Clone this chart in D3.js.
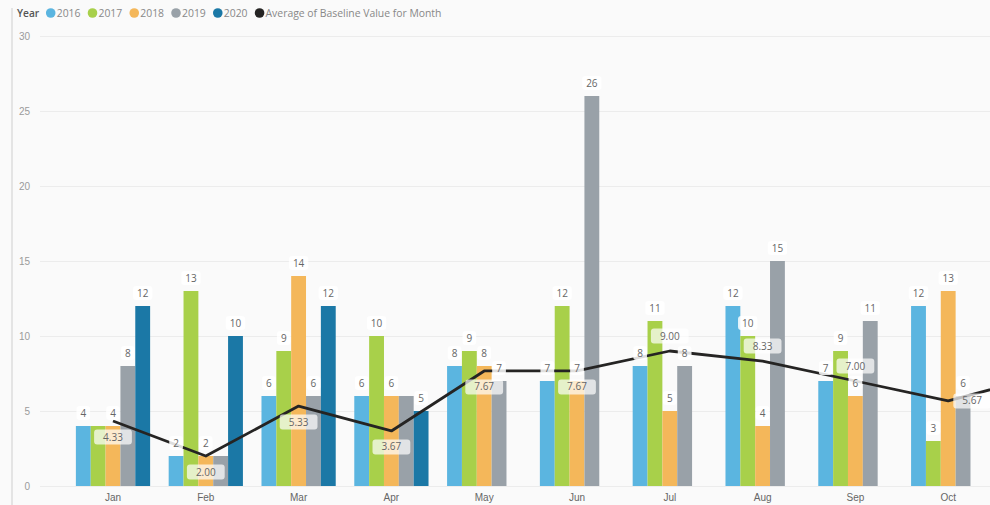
<!DOCTYPE html>
<html><head><meta charset="utf-8">
<script src="https://cdn.jsdelivr.net/npm/d3@7"></script>
<style>
html,body{margin:0;padding:0;background:#fafafa;}
svg{display:block;font-family:"Open Sans","Noto Sans",sans-serif;}
</style></head>
<body><svg id="c" width="990" height="505"></svg>
<script>
const months = ["Jan","Feb","Mar","Apr","May","Jun","Jul","Aug","Sep","Oct","Nov"];
const visibleMonths = ["Jan","Feb","Mar","Apr","May","Jun","Jul","Aug","Sep","Oct"];
const years = ["2016","2017","2018","2019","2020"];
const v2016 = [4, 2, 6, 6, 8, 7, 8, 12, 7, 12];
const v2017 = [4, 13, 9, 10, 9, 12, 11, 10, 9, 3];
const v2018 = [4, 2, 14, 6, 8, 7, 5, 4, 6, 13];
const v2019 = [8, 2, 6, 6, 7, 26, 8, 15, 11, 6];
const v2020 = [12, 10, 12, 5, null, null, null, null, null, null];
const avgBaseline = [4.33, 2.00, 5.33, 3.67, 7.67, 7.67, 9.00, 8.33, 7.00, 5.67, 7.33];
const yTicks = [0, 5, 10, 15, 20, 25, 30];
const avgLabelSide = ["below","below","below","below","below","below","above","above","above","right","none"];
const legendTitle = "Year";
const avgName = "Average of Baseline Value for Month";

const colors = {"2016":"#5BB5E0","2017":"#A8D04A","2018":"#F4B75A","2019":"#99A1A8","2020":"#1B78A6"};
const lineColor = "#252423";
const series = {"2016":v2016,"2017":v2017,"2018":v2018,"2019":v2019,"2020":v2020};

const svg = d3.select("#c");
const W = 990, H = 505;

const x = d3.scaleBand().domain(months).range([66.6, 66.6 + 11*92.8]).paddingInner(0.2).paddingOuter(0.1);
const xs = d3.scaleBand().domain(years).range([0, x.bandwidth()]);
const y = d3.scaleLinear().domain([0, 30]).range([486, 36]);

// left frame line
svg.append("line").attr("x1",12).attr("x2",12).attr("y1",8).attr("y2",H).attr("stroke","#dcdcdc").attr("stroke-width",1.5);

// gridlines
const yAxis = d3.axisLeft(y).tickValues(yTicks).tickSize(-(W-40)).tickPadding(10);
const gy = svg.append("g").attr("transform","translate(40,0)").call(yAxis);
gy.select(".domain").remove();
gy.selectAll(".tick line").attr("stroke","#ececec").attr("stroke-width",1);
gy.selectAll(".tick text").attr("fill","#9a9a9a").attr("font-size",10);

// x axis
const xAxis = d3.axisBottom(x).tickValues(visibleMonths).tickSize(0).tickPadding(8);
const gx = svg.append("g").attr("transform","translate(0,486)").call(xAxis);
gx.select(".domain").remove();
gx.selectAll(".tick text").attr("fill","#666").attr("font-size",10);

// bars
const barData = [];
months.forEach((m,i)=>{
  years.forEach(yr=>{
    const v = series[yr][i];
    if(v!=null && v!==undefined) barData.push({m, yr, v});
  });
});
svg.append("g").selectAll("rect").data(barData).join("rect")
  .attr("x", d=>x(d.m)+xs(d.yr))
  .attr("width", xs.bandwidth())
  .attr("y", d=>y(d.v))
  .attr("height", d=>y(0)-y(d.v))
  .attr("fill", d=>colors[d.yr]);

// line
const lineData = months.map((m,i)=>({m, v:avgBaseline[i], side:avgLabelSide[i]}));
const line = d3.line().x(d=>x(d.m)+x.bandwidth()/2).y(d=>y(d.v));
svg.append("path").datum(lineData).attr("d", line).attr("fill","none")
  .attr("stroke", lineColor).attr("stroke-width",2.8).attr("stroke-linejoin","round");

// bar labels with collision hiding
const lblG = svg.append("g");
const shown = [];
barData.forEach(d=>{
  const cx = x(d.m)+xs(d.yr)+xs.bandwidth()/2;
  const cy = y(d.v) - 13;
  const g = lblG.append("g");
  const t = g.append("text").attr("x",cx).attr("y",cy).attr("dy","0.35em")
    .attr("text-anchor","middle").attr("font-size",10).attr("fill","#666").text(d.v);
  const w = t.node().getComputedTextLength();
  const box = {x0:cx-w/2-5, x1:cx+w/2+5, y0:cy-7, y1:cy+7};
  const hit = shown.some(b=>!(box.x1<=b.x0||box.x0>=b.x1||box.y1<=b.y0||box.y0>=b.y1));
  if(hit){ g.remove(); return; }
  shown.push(box);
  g.insert("rect","text").attr("x",box.x0+1).attr("y",box.y0).attr("width",box.x1-box.x0-2).attr("height",box.y1-box.y0)
    .attr("rx",3).attr("fill","#fff").attr("opacity",0.85);
});

// avg labels
const aG = svg.append("g");
lineData.forEach(d=>{
  if(d.side==="none") return;
  let cx = x(d.m)+x.bandwidth()/2, cy = y(d.v);
  if(d.side==="below") cy += 16;
  else if(d.side==="above") cy -= 15;
  else { cx += 24; }
  const g = aG.append("g");
  const t = g.append("text").attr("x",cx).attr("y",cy).attr("dy","0.35em").attr("text-anchor","middle")
    .attr("font-size",10).attr("fill","#666").text(d3.format(".2f")(d.v));
  const w = t.node().getComputedTextLength();
  g.insert("rect","text").attr("x",cx-w/2-9).attr("y",cy-7.5).attr("width",w+18).attr("height",15)
    .attr("rx",3).attr("fill","#fff").attr("opacity",0.7);
});

// legend
const lg = svg.append("g").attr("transform","translate(0,13)");
let lx = 17;
const tt = lg.append("text").attr("x",lx).attr("y",0).attr("dy","0.35em").attr("font-size",10.2)
  .attr("font-weight",600).attr("fill","#555").text(legendTitle);
lx += tt.node().getComputedTextLength() + 7;
const legItems = years.map(yr=>({name:yr, color:colors[yr]})).concat([{name:avgName, color:lineColor}]);
legItems.forEach(it=>{
  lg.append("circle").attr("cx",lx+4.5).attr("cy",0).attr("r",4.8).attr("fill",it.color);
  const t = lg.append("text").attr("x",lx+10.5).attr("y",0).attr("dy","0.35em").attr("font-size",10.4)
    .attr("fill","#888").text(it.name);
  lx += 10.5 + t.node().getComputedTextLength() + 7.5;
});
</script></body></html>
